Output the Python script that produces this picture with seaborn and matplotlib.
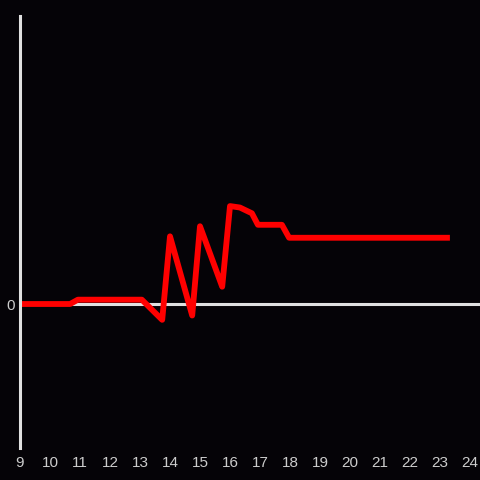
import matplotlib.pyplot as plt
import pandas as pd
import seaborn as sns

hours = [9.0, 10.67, 10.93, 13.06, 13.74, 14.0, 14.74, 15.0, 15.74, 16.0,
         16.33, 16.73, 16.93, 17.73, 17.97, 23.33]
values = [0.0, 0.0, 0.03, 0.03, -0.11, 0.47, -0.08, 0.54, 0.12, 0.68,
          0.67, 0.63, 0.55, 0.55, 0.46, 0.46]
xticks = list(range(9, 25))

df = pd.DataFrame({'hour': hours, 'value': values})

bg = '#050307'
sns.set_style('dark', {'axes.facecolor': bg, 'figure.facecolor': bg})
plt.rcParams['font.family'] = ['Liberation Sans', 'DejaVu Sans']

fig = plt.figure(figsize=(4.8, 4.8), dpi=100)
ax = fig.add_axes([20 / 480, 32 / 480, 460 / 480, 432 / 480])
ax.set_facecolor(bg)

ax.axhline(0, color='#e0e0e0', lw=2.2, zorder=1)
sns.lineplot(data=df, x='hour', y='value', ax=ax, color='#ff0000', lw=4.2,
             zorder=2, solid_capstyle='butt', solid_joinstyle='round')

ax.set_xlim(9, 24 + 1 / 3)
ax.set_ylim(-1, 2)
ax.set_xticks(xticks)
ax.set_xticklabels([str(t) for t in xticks])
ax.set_yticks([0])
ax.set_yticklabels(['0'])
ax.tick_params(length=0, colors='#cccccc', labelsize=11, pad=6)
ax.tick_params(axis='y', pad=4)
ax.set_xlabel('')
ax.set_ylabel('')
ax.grid(False)
for s in ['top', 'right', 'bottom']:
    ax.spines[s].set_visible(False)
ax.spines['left'].set_color('#e0e0e0')
ax.spines['left'].set_linewidth(2.2)
ax.spines['left'].set_zorder(3)

fig.savefig('out.png', dpi=100, facecolor=bg)
